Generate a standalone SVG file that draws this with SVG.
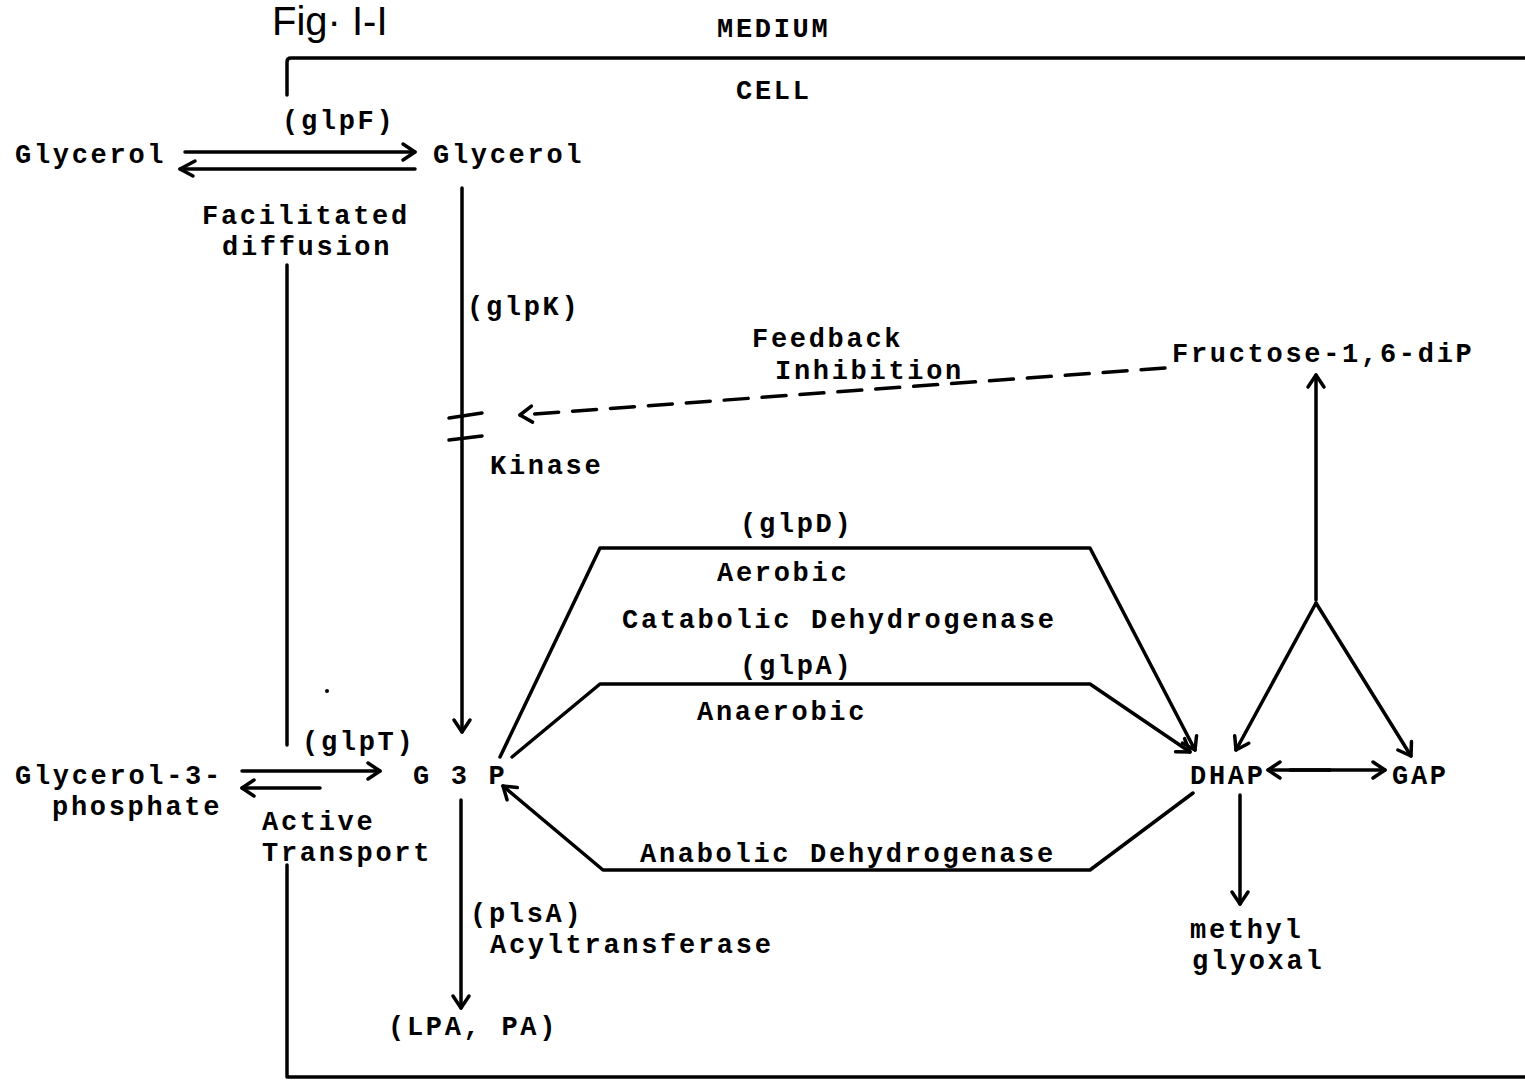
<svg xmlns="http://www.w3.org/2000/svg" width="1525" height="1081" viewBox="0 0 1525 1081">
<style>
.t{font-family:"Liberation Mono","DejaVu Sans Mono",monospace;font-weight:bold;font-size:27px;letter-spacing:2.7px;fill:#000}
.l{stroke:#000;stroke-width:3.5;fill:none;stroke-linecap:round;stroke-linejoin:round}
.a{marker-end:url(#ah)}
</style>
<defs>
<marker id="ah" markerUnits="userSpaceOnUse" markerWidth="24" markerHeight="24" viewBox="0 0 24 24" refX="20" refY="12" orient="auto">
<path d="M8,4 L20,12 L8,20" fill="none" stroke="#000" stroke-width="3.5" stroke-linecap="round" stroke-linejoin="round"/>
</marker>
</defs>
<rect width="1525" height="1081" fill="#fff"/>
<text x="272" y="35" style="font-family:'Liberation Sans',Arial,sans-serif;font-size:40px;fill:#000">Fig· I-I</text>
<g id="boundary">
<path class="l" d="M287,95 L287,62 Q287,58 291,58 L1525,58"/>
<path class="l" d="M287,265 L287,745"/>
<path class="l" d="M287,865 L287,1077 L1525,1077"/>
<text class="t" x="717" y="37">MEDIUM</text>
<text class="t" x="736" y="99">CELL</text>
</g>
<g id="glycerol-out"><text class="t" x="15" y="163">Glycerol</text></g>
<g id="glycerol-in"><text class="t" x="433" y="163">Glycerol</text></g>
<g id="glpF"><text class="t" x="282" y="129">(glpF)</text>
<text class="t" x="202" y="224">Facilitated</text>
<text class="t" x="222" y="255">diffusion</text></g>
<g id="glpK"><text class="t" x="467" y="315">(glpK)</text></g>
<g id="feedback"><text class="t" x="752" y="347">Feedback</text>
<text class="t" x="775" y="379">Inhibition</text></g>
<g id="kinase"><text class="t" x="490" y="474">Kinase</text></g>
<g id="fdp"><text class="t" x="1172" y="362">Fructose-1,6-diP</text></g>
<g id="g3p-ext"><text class="t" x="15" y="784">Glycerol-3-</text>
<text class="t" x="52" y="815">phosphate</text></g>
<g id="glpT"><text class="t" x="302" y="750">(glpT)</text>
<text class="t" x="262" y="830">Active</text>
<text class="t" x="262" y="861">Transport</text></g>
<g id="g3p"><text class="t" x="413" y="784">G 3 P</text></g>
<g id="plsA"><text class="t" x="470" y="922">(plsA)</text>
<text class="t" x="490" y="953">Acyltransferase</text></g>
<g id="lpa"><text class="t" x="388" y="1035">(LPA, PA)</text></g>
<g id="glpD"><text class="t" x="740" y="532">(glpD)</text>
<text class="t" x="717" y="581">Aerobic</text>
<text class="t" x="622" y="628">Catabolic Dehydrogenase</text></g>
<g id="glpA"><text class="t" x="740" y="674">(glpA)</text>
<text class="t" x="697" y="720">Anaerobic</text></g>
<g id="anabolic"><text class="t" x="640" y="862">Anabolic Dehydrogenase</text></g>
<g id="dhap"><text class="t" x="1190" y="784">DHAP</text></g>
<g id="gap"><text class="t" x="1392" y="784">GAP</text></g>
<g id="mg"><text class="t" x="1190" y="938">methyl</text>
<text class="t" x="1192" y="969">glyoxal</text></g>
<g id="connectors">
<path class="l a" d="M185,152 L415,152"/>
<path class="l" d="M180,169 L415,169"/>
<path class="l" d="M195,161 L180,169 L193,176"/>
<path class="l a" d="M462,188 L462,732"/>
<path class="l" d="M449,418 L482,413"/>
<path class="l" d="M449,440 L482,436"/>
<path class="l a" d="M1165,368 L520,415" stroke-dasharray="24,14"/>
<path class="l a" d="M1316,600 L1316,375"/>
<path class="l a" d="M1316,603 L1236,750"/>
<path class="l a" d="M1316,603 L1411,756"/>
<path class="l a" d="M1290,770 L1385,770"/>
<path class="l a" d="M1330,770 L1268,770"/>
<path class="l a" d="M1240,795 L1240,904"/>
<path class="l a" d="M500,757 L600,548 L1090,548 L1195,750"/>
<path class="l a" d="M512,757 L600,684 L1090,684 L1190,752"/>
<path class="l a" d="M1193,793 L1090,870 L603,870 L503,786"/>
<path class="l a" d="M242,771 L380,771"/>
<path class="l a" d="M320,788 L242,788"/>
<path class="l a" d="M461,800 L461,1008"/>
</g>
<circle cx="327" cy="691" r="2" fill="#000"/>
</svg>
